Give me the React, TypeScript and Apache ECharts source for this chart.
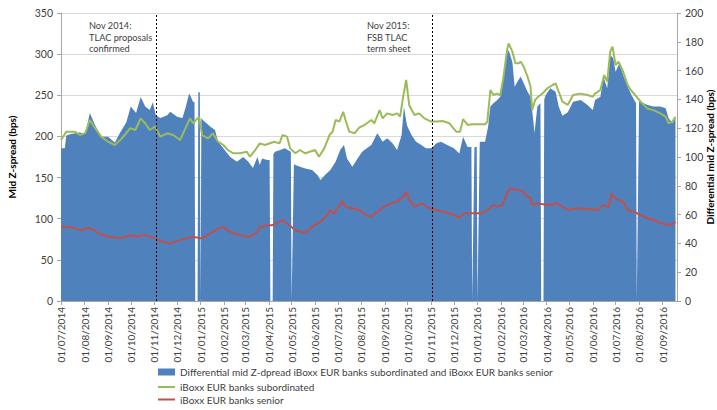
import React, { useEffect, useRef } from "react";
import * as echarts from "echarts";

const DIFF_NAME = "Differential mid Z-dpread iBoxx EUR banks subordinated and iBoxx EUR banks senior";
const SUB_NAME = "iBoxx EUR banks subordinated";
const SEN_NAME = "iBoxx EUR banks senior";

const startDate = "2014-07-01";
const endDate = "2016-09-20";

const leftTicks = { min: 0, max: 350, interval: 50 };
const rightTicks = { min: 0, max: 200, interval: 20 };

const eventDates = ["2014-11-04", "2015-11-03"];
const eventNotes = ["Nov 2014:\nTLAC proposals\nconfirmed", "Nov 2015:\nFSB TLAC\nterm sheet"];

// right axis (bps)
const differential: [string, number][] = [
  ["2014-07-01", 106], ["2014-07-06", 106], ["2014-07-08", 115], ["2014-07-14", 116], ["2014-07-26", 117],
  ["2014-08-02", 116], ["2014-08-08", 130.5], ["2014-08-15", 122], ["2014-08-23", 114], ["2014-09-01", 114],
  ["2014-09-10", 110], ["2014-09-17", 117], ["2014-09-25", 124], ["2014-10-01", 135], ["2014-10-08", 130.5],
  ["2014-10-14", 141.7], ["2014-10-20", 135], ["2014-10-26", 132.6], ["2014-10-30", 138], ["2014-11-03", 129],
  ["2014-11-09", 127], ["2014-11-18", 129], ["2014-11-22", 131.5], ["2014-12-01", 128], ["2014-12-08", 127],
  ["2014-12-12", 133.8], ["2014-12-17", 144.2], ["2014-12-22", 138.4], ["2014-12-24", 138], ["2014-12-25", 0],
  ["2014-12-28", 0], ["2014-12-29", 145], ["2014-12-31", 145], ["2015-01-01", 0], ["2015-01-02", 127],
  ["2015-01-04", 125.7], ["2015-01-14", 121], ["2015-01-20", 118.8], ["2015-01-24", 110.6], ["2015-01-31", 106],
  ["2015-02-09", 100], ["2015-02-18", 96.7], ["2015-02-26", 100], ["2015-03-05", 96.7], ["2015-03-11", 92.4],
  ["2015-03-17", 100], ["2015-03-20", 94.4], ["2015-03-23", 99], ["2015-03-30", 98], ["2015-04-02", 98],
  ["2015-04-03", 0], ["2015-04-06", 0], ["2015-04-07", 102], ["2015-04-09", 103.7], ["2015-04-16", 104.9],
  ["2015-04-22", 106], ["2015-04-30", 103.7], ["2015-05-01", 0], ["2015-05-04", 95], ["2015-05-06", 94.4],
  ["2015-05-12", 93.3], ["2015-05-19", 92.1], ["2015-05-28", 91], ["2015-06-04", 87.5], ["2015-06-08", 84],
  ["2015-06-14", 87.5], ["2015-06-21", 91], ["2015-06-28", 96.7], ["2015-07-04", 104.9], ["2015-07-09", 108.3],
  ["2015-07-13", 99], ["2015-07-20", 93.3], ["2015-07-27", 99], ["2015-08-02", 103.7], ["2015-08-05", 104.9],
  ["2015-08-14", 108.3], ["2015-08-22", 116.5], ["2015-08-29", 110.6], ["2015-09-04", 113], ["2015-09-11", 109.5],
  ["2015-09-17", 104.9], ["2015-09-23", 115.3], ["2015-09-26", 134.9], ["2015-09-30", 122], ["2015-10-06", 115.3],
  ["2015-10-12", 110.6], ["2015-10-19", 108.3], ["2015-10-25", 106], ["2015-11-01", 106], ["2015-11-08", 109.5],
  ["2015-11-14", 110.6], ["2015-11-22", 108.3], ["2015-12-01", 106], ["2015-12-08", 102.5], ["2015-12-13", 114],
  ["2015-12-19", 107], ["2015-12-24", 107], ["2015-12-25", 0], ["2015-12-28", 107], ["2015-12-31", 107],
  ["2016-01-01", 0], ["2016-01-04", 110], ["2016-01-05", 110.6], ["2016-01-11", 110.6], ["2016-01-15", 121],
  ["2016-01-18", 135], ["2016-01-22", 137.3], ["2016-01-27", 139.6], ["2016-01-31", 141.9], ["2016-02-03", 150],
  ["2016-02-07", 168.5], ["2016-02-11", 174.3], ["2016-02-16", 166], ["2016-02-19", 148.8], ["2016-02-24", 153.5],
  ["2016-02-27", 155.8], ["2016-03-02", 151.2], ["2016-03-07", 145.3], ["2016-03-11", 141.9], ["2016-03-15", 123.4],
  ["2016-03-16", 116.5], ["2016-03-20", 135], ["2016-03-24", 137.3], ["2016-03-25", 0], ["2016-03-28", 0],
  ["2016-03-29", 140], ["2016-03-31", 143], ["2016-04-06", 147.7], ["2016-04-13", 145.3], ["2016-04-17", 135],
  ["2016-04-22", 128.7], ["2016-04-29", 131], ["2016-05-06", 138.4], ["2016-05-16", 139.6], ["2016-05-25", 136.1],
  ["2016-06-01", 132.6], ["2016-06-04", 139.6], ["2016-06-11", 141.9], ["2016-06-15", 155.8], ["2016-06-20", 147.7],
  ["2016-06-24", 170.8], ["2016-06-28", 168.5], ["2016-07-01", 159.2], ["2016-07-06", 165], ["2016-07-11", 156.9],
  ["2016-07-17", 148.8], ["2016-07-22", 143], ["2016-07-28", 137.3], ["2016-07-29", 0], ["2016-08-01", 138.4],
  ["2016-08-03", 138.4], ["2016-08-12", 136.1], ["2016-08-20", 135], ["2016-08-29", 135], ["2016-09-05", 133.8],
  ["2016-09-09", 126.9], ["2016-09-14", 123.4], ["2016-09-18", 127],
];

// left axis (bps)
const subordinated: [string, number][] = [
  ["2014-07-01", 195.6], ["2014-07-08", 205.8], ["2014-07-19", 205.8], ["2014-07-26", 201.7], ["2014-08-02", 204],
  ["2014-08-08", 220], ["2014-08-15", 210], ["2014-08-23", 199.7], ["2014-09-01", 193.6], ["2014-09-10", 189.6],
  ["2014-09-17", 195.6], ["2014-09-23", 201.7], ["2014-09-30", 210], ["2014-10-07", 207.8], ["2014-10-14", 222],
  ["2014-10-20", 216], ["2014-10-26", 207.8], ["2014-11-02", 211.8], ["2014-11-09", 199.7], ["2014-11-18", 203.8],
  ["2014-11-26", 201.7], ["2014-12-05", 195.6], ["2014-12-12", 209.8], ["2014-12-18", 222], ["2014-12-22", 216],
  ["2014-12-30", 224], ["2015-01-03", 201.7], ["2015-01-11", 197.7], ["2015-01-17", 203.8], ["2015-01-24", 193.6],
  ["2015-01-31", 189.6], ["2015-02-06", 183.5], ["2015-02-13", 179.5], ["2015-02-22", 179.5], ["2015-03-03", 181.4],
  ["2015-03-07", 175.4], ["2015-03-14", 183.5], ["2015-03-20", 191.6], ["2015-03-27", 189.6], ["2015-04-08", 193.6],
  ["2015-04-15", 191.6], ["2015-04-19", 201.7], ["2015-04-25", 199.7], ["2015-04-29", 185.5], ["2015-05-06", 179.5],
  ["2015-05-12", 183.5], ["2015-05-19", 179.5], ["2015-05-25", 181.4], ["2015-06-01", 183.5], ["2015-06-06", 175.4],
  ["2015-06-13", 185.5], ["2015-06-20", 201.7], ["2015-06-24", 205.8], ["2015-06-28", 220], ["2015-07-03", 218],
  ["2015-07-08", 230], ["2015-07-11", 220], ["2015-07-16", 205.8], ["2015-07-23", 203.8], ["2015-07-29", 210.6],
  ["2015-08-05", 213.9], ["2015-08-14", 220], ["2015-08-18", 216], ["2015-08-25", 232], ["2015-08-29", 222],
  ["2015-09-04", 228], ["2015-09-11", 226], ["2015-09-17", 228], ["2015-09-21", 224], ["2015-09-25", 248],
  ["2015-09-29", 268.6], ["2015-10-03", 238], ["2015-10-10", 226], ["2015-10-16", 228], ["2015-10-23", 222],
  ["2015-11-01", 218], ["2015-11-09", 218], ["2015-11-16", 218.7], ["2015-11-25", 216], ["2015-12-04", 205.8],
  ["2015-12-09", 205.8], ["2015-12-13", 221], ["2015-12-19", 214], ["2015-12-25", 214.7], ["2016-01-11", 214.7],
  ["2016-01-14", 218], ["2016-01-18", 256.4], ["2016-01-22", 250.3], ["2016-01-27", 252], ["2016-01-31", 250],
  ["2016-02-04", 270.6], ["2016-02-09", 305], ["2016-02-11", 313], ["2016-02-16", 303], ["2016-02-20", 288.8],
  ["2016-02-24", 288.8], ["2016-02-27", 290.8], ["2016-03-02", 284.7], ["2016-03-07", 272.6], ["2016-03-11", 260.4],
  ["2016-03-13", 232], ["2016-03-17", 244.3], ["2016-03-21", 248.3], ["2016-03-27", 252.4], ["2016-04-02", 258.5],
  ["2016-04-09", 262.5], ["2016-04-13", 264.5], ["2016-04-17", 254.4], ["2016-04-22", 242.2], ["2016-04-29", 238.2],
  ["2016-05-06", 250.3], ["2016-05-16", 252], ["2016-05-25", 250.3], ["2016-06-01", 248.3], ["2016-06-04", 252],
  ["2016-06-11", 256.4], ["2016-06-16", 274.6], ["2016-06-20", 266.5], ["2016-06-24", 303], ["2016-06-27", 309],
  ["2016-07-01", 286.8], ["2016-07-05", 290.8], ["2016-07-11", 278.6], ["2016-07-17", 262.5], ["2016-07-21", 256.4],
  ["2016-07-27", 250.3], ["2016-08-03", 242.2], ["2016-08-12", 234], ["2016-08-20", 232], ["2016-08-29", 228],
  ["2016-09-05", 224], ["2016-09-09", 216], ["2016-09-14", 218], ["2016-09-18", 224],
];

// left axis (bps)
const senior: [string, number][] = [
  ["2014-07-01", 90.3], ["2014-07-14", 90], ["2014-07-27", 86], ["2014-08-08", 89], ["2014-08-19", 82.6],
  ["2014-09-01", 78], ["2014-09-18", 76.4], ["2014-10-01", 80], ["2014-10-11", 78], ["2014-10-17", 81],
  ["2014-10-30", 77], ["2014-11-06", 74], ["2014-11-15", 71.3], ["2014-11-22", 70], ["2014-12-05", 74],
  ["2014-12-21", 78], ["2015-01-03", 76], ["2015-01-14", 82], ["2015-01-24", 88], ["2015-01-31", 90],
  ["2015-02-09", 84], ["2015-02-22", 80], ["2015-03-07", 78], ["2015-03-17", 84], ["2015-03-20", 90],
  ["2015-03-30", 92], ["2015-04-05", 92], ["2015-04-19", 98.4], ["2015-04-28", 92], ["2015-05-06", 86],
  ["2015-05-19", 83], ["2015-05-28", 90], ["2015-06-08", 96.4], ["2015-06-17", 104.5], ["2015-06-21", 110.6],
  ["2015-06-26", 106], ["2015-07-07", 121.5], ["2015-07-11", 114.6], ["2015-07-20", 112.6], ["2015-07-29", 110.6],
  ["2015-08-07", 104.5], ["2015-08-14", 102.5], ["2015-08-25", 110.6], ["2015-08-31", 114.6], ["2015-09-09", 118.7],
  ["2015-09-17", 120.7], ["2015-09-25", 126.7], ["2015-09-29", 132.8], ["2015-10-03", 122.7], ["2015-10-10", 114.6],
  ["2015-10-19", 118.7], ["2015-11-01", 111.8], ["2015-11-18", 108.5], ["2015-12-01", 104.5], ["2015-12-08", 101.2],
  ["2015-12-15", 106.6], ["2015-12-24", 106.6], ["2016-01-05", 106.6], ["2016-01-14", 109.8], ["2016-01-21", 116.7],
  ["2016-01-27", 114.6], ["2016-02-03", 116.7], ["2016-02-09", 130.9], ["2016-02-13", 137], ["2016-02-20", 135.3],
  ["2016-02-29", 134], ["2016-03-07", 126.7], ["2016-03-11", 124.7], ["2016-03-13", 116.7], ["2016-03-20", 118.7],
  ["2016-04-02", 116.7], ["2016-04-15", 118.7], ["2016-04-29", 110.6], ["2016-05-12", 112.6], ["2016-05-29", 111.5],
  ["2016-06-07", 110.6], ["2016-06-15", 116.7], ["2016-06-22", 114.6], ["2016-06-26", 130.9], ["2016-06-28", 126.7],
  ["2016-07-05", 122.7], ["2016-07-11", 120.7], ["2016-07-17", 110.6], ["2016-07-25", 108.5], ["2016-08-03", 104.5],
  ["2016-08-12", 100.5], ["2016-08-20", 98.4], ["2016-08-29", 95.1], ["2016-09-07", 92.4], ["2016-09-14", 93.3],
  ["2016-09-18", 96.4],
];

function buildDays(from: string, to: string): string[] {
  const out: string[] = [];
  const [fy, fm, fd] = from.split("-").map(Number);
  const [ty, tm, td] = to.split("-").map(Number);
  let t = Date.UTC(fy, fm - 1, fd);
  const end = Date.UTC(ty, tm - 1, td);
  while (t <= end) {
    out.push(new Date(t).toISOString().slice(0, 10));
    t += 86400000;
  }
  return out;
}

const days = buildDays(startDate, endDate);
const isMonthStart = (_i: number, v: string) => v.slice(8) === "01";
const fmtDate = (v: string) => `${v.slice(8, 10)}/${v.slice(5, 7)}/${v.slice(0, 4)}`;

const FONT = "Lato, 'Open Sans', sans-serif";
const AXIS_GRAY = "#A6A6A6";

export default function App() {
  const ref = useRef<HTMLDivElement>(null);
  useEffect(() => {
    if (!ref.current) return;
    const chart = echarts.init(ref.current, undefined, { renderer: "svg" });
    chart.setOption({
      animation: false,
      backgroundColor: "#ffffff",
      textStyle: { fontFamily: FONT },
      grid: { left: 61, right: 40, top: 13, bottom: 109, outerBoundsMode: "none" },
      legend: [
        {
          data: [DIFF_NAME],
          left: 158,
          top: 367,
          icon: "rect",
          itemWidth: 17,
          itemHeight: 7,
          padding: 0,
          textStyle: { fontSize: 10, color: "#404040", fontFamily: FONT },
        },
        {
          data: [SUB_NAME, SEN_NAME],
          orient: "vertical",
          left: 158,
          top: 382,
          icon: "rect",
          itemWidth: 17,
          itemHeight: 2,
          itemGap: 2.5,
          padding: 0,
          textStyle: { fontSize: 10, color: "#404040", fontFamily: FONT },
        },
      ],
      xAxis: {
        type: "category",
        data: days,
        boundaryGap: false,
        axisLine: { lineStyle: { color: AXIS_GRAY } },
        axisTick: { interval: isMonthStart, length: 4, lineStyle: { color: AXIS_GRAY } },
        axisLabel: {
          interval: isMonthStart,
          rotate: 90,
          margin: 6,
          fontSize: 10,
          color: "#404040",
          fontFamily: FONT,
          formatter: fmtDate,
        },
        splitLine: { show: false },
      },
      yAxis: [
        {
          type: "value",
          ...leftTicks,
          name: "Mid Z-spread (bps)",
          nameLocation: "middle",
          nameRotate: 90,
          nameGap: 44,
          nameMoveOverlap: false,
          nameTextStyle: { fontWeight: "bold", fontSize: 10, color: "#000", fontFamily: FONT },
          axisLine: { show: true, lineStyle: { color: AXIS_GRAY } },
          axisTick: { show: true, length: 4, lineStyle: { color: AXIS_GRAY } },
          axisLabel: { fontSize: 10.5, color: "#404040", margin: 8, fontFamily: FONT },
          splitLine: { lineStyle: { color: "#D9D9D9" } },
        },
        {
          type: "value",
          position: "right",
          ...rightTicks,
          name: "Differential mid Z-spread (bps)",
          nameLocation: "middle",
          nameRotate: 90,
          nameGap: 28,
          nameMoveOverlap: false,
          nameTextStyle: { fontWeight: "bold", fontSize: 10, color: "#000", fontFamily: FONT },
          axisLine: { show: true, lineStyle: { color: AXIS_GRAY } },
          axisTick: { show: true, length: 4, lineStyle: { color: AXIS_GRAY } },
          axisLabel: { fontSize: 10.5, color: "#404040", margin: 8, fontFamily: FONT },
          splitLine: { show: false },
        },
      ],
      series: [
        {
          name: DIFF_NAME,
          type: "line",
          yAxisIndex: 1,
          data: differential,
          symbol: "none",
          color: "#4F81BD",
          lineStyle: { width: 0 },
          areaStyle: { color: "#4F81BD", opacity: 1 },
          z: 1,
        },
        {
          name: SUB_NAME,
          type: "line",
          yAxisIndex: 0,
          data: subordinated,
          symbol: "none",
          color: "#9BBB59",
          lineStyle: { width: 2, color: "#9BBB59" },
          z: 3,
          markLine: {
            silent: true,
            symbol: "none",
            label: { show: false },
            lineStyle: { color: "#000000", width: 1, type: [2, 2] },
            data: eventDates.map((d) => ({ xAxis: d })),
          },
        },
        {
          name: SEN_NAME,
          type: "line",
          yAxisIndex: 0,
          data: senior,
          symbol: "none",
          color: "#C0504D",
          lineStyle: { width: 2, color: "#C0504D" },
          z: 3,
        },
      ],
      graphic: [
        {
          type: "text",
          left: 89,
          top: 20,
          style: { text: eventNotes[0], font: `9.2px ${FONT}`, fill: "#404040", lineHeight: 11.5 },
        },
        {
          type: "text",
          left: 367,
          top: 20,
          style: { text: eventNotes[1], font: `9.2px ${FONT}`, fill: "#404040", lineHeight: 11.5 },
        },
      ],
    });
    return () => chart.dispose();
  }, []);
  return <div ref={ref} style={{ width: 717, height: 410, position: "absolute", left: 0, top: 0 }} />;
}
